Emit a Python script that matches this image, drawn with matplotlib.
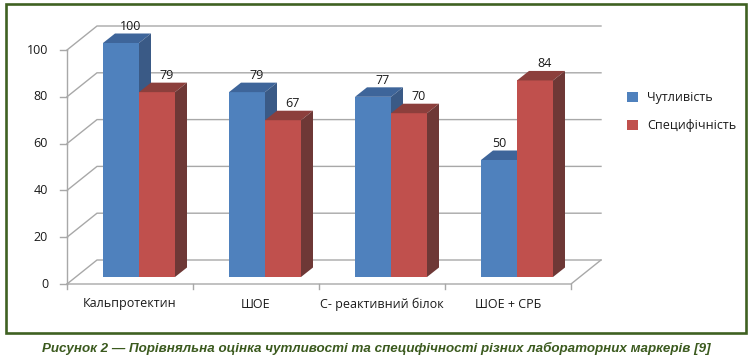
import matplotlib
matplotlib.use("Agg")
import matplotlib.pyplot as plt
from matplotlib.patches import Polygon, Rectangle, Patch

# ---- data ----
categories = ["Кальпротектин", "ШОЕ", "С- реактивний білок", "ШОЕ + СРБ"]
series_names = ["Чутливість", "Специфічність"]
sensitivity = [100, 79, 77, 50]
specificity = [79, 67, 70, 84]
y_ticks = [0, 20, 40, 60, 80, 100]
caption = "Рисунок 2 — Порівняльна оцінка чутливості та специфічності різних лабораторних маркерів [9]"

# ---- style ----
FRONT = ["#4F81BD", "#C0504D"]
TOP = ["#3E659A", "#8C3F3C"]
SIDE = ["#3A5A86", "#6E3836"]
GRID = "#A8A8A8"
FONT = ["Open Sans", "DejaVu Sans"]
FS = 9
plt.rcParams["font.family"] = FONT

W, H = 752, 361
fig = plt.figure(figsize=(W / 100, H / 100), dpi=100)
fig.patch.set_facecolor("white")

# pixel layout of the plot (front axis origin, scale)
X0, Y0 = 67, 284          # front-left-bottom corner in px (from top)
CATPX, VALPX = 126, 2.34  # px per category, px per value unit
ax = fig.add_axes([0, 0, 1, 1])
ax.set_xlim(-X0 / CATPX, (W - X0) / CATPX)
ax.set_ylim(-(H - Y0) / VALPX, Y0 / VALPX)
ax.axis("off")

def px_dx(p):
    return p / CATPX

def px_dy(p):
    return p / VALPX

WALL_DX, WALL_DY = px_dx(30), px_dy(24)
BAR_OFF_X, BAR_OFF_Y = px_dx(9), px_dy(7)
BAR_DX, BAR_DY = px_dx(12), px_dy(9.5)
BW = px_dx(36)
n = len(categories)

# ---- walls / gridlines ----
for v in y_ticks:
    ax.plot([0, WALL_DX, n + WALL_DX], [v, v + WALL_DY, v + WALL_DY],
            color=GRID, lw=1.0, zorder=1, solid_joinstyle="miter")
    ax.plot([-px_dx(7), 0], [v, v], color=GRID, lw=1.0, zorder=1)
    ax.text(-px_dx(19), v, str(v), ha="right", va="center", fontsize=FS,
            color="#1a1a1a")
ax.plot([0, 0], [0, y_ticks[-1]], color=GRID, lw=1.0, zorder=1)
ax.plot([0, n, n + WALL_DX], [0, 0, WALL_DY], color=GRID, lw=1.0, zorder=1)
for i in range(n + 1):
    ax.plot([i, i], [0, -px_dy(5)], color=GRID, lw=1.0, zorder=1)
for i, c in enumerate(categories):
    ax.text(i + 0.5, -px_dy(20), c, ha="center", va="center", fontsize=FS,
            color="#1a1a1a")

# ---- 3D bars ----
series = [sensitivity, specificity]
z = 3
for i in range(n):
    for s, vals in enumerate(series):
        v = vals[i]
        x0 = i + 0.5 + BAR_OFF_X - BW + s * BW
        y0 = BAR_OFF_Y
        ax.bar(x0, v, width=BW, bottom=y0, align="edge", color=FRONT[s],
               linewidth=0, zorder=z)
        top = [(x0, y0 + v), (x0 + BW, y0 + v),
               (x0 + BW + BAR_DX, y0 + v + BAR_DY), (x0 + BAR_DX, y0 + v + BAR_DY)]
        side = [(x0 + BW, y0), (x0 + BW + BAR_DX, y0 + BAR_DY),
                (x0 + BW + BAR_DX, y0 + v + BAR_DY), (x0 + BW, y0 + v)]
        ax.add_patch(Polygon(top, closed=True, facecolor=TOP[s], lw=0, zorder=z))
        ax.add_patch(Polygon(side, closed=True, facecolor=SIDE[s], lw=0, zorder=z))
        # label: centred over the back edge of the top; pulled left when the
        # neighbouring bar to the right is taller (would overlap)
        lx = x0 + BW / 2 + BAR_DX * 0.8
        if s + 1 < len(series) and series[s + 1][i] > v:
            lx = x0 + BW / 2
        ax.text(lx, y0 + v + BAR_DY + px_dy(7), str(v),
                ha="center", va="center", fontsize=FS, color="#1a1a1a",
                zorder=100)
        z += 1

# ---- legend ----
handles = [Patch(facecolor=FRONT[k], edgecolor="none") for k in range(2)]
leg = ax.legend(handles, series_names, loc="upper left",
                bbox_to_anchor=(627 / W, 1 - 91 / H),
                bbox_transform=fig.transFigure, frameon=False, fontsize=FS,
                handlelength=0.9, handleheight=0.9, handletextpad=0.7,
                labelspacing=1.2, borderpad=0, borderaxespad=0)
for t in leg.get_texts():
    t.set_color("#1a1a1a")

# ---- frame ----
fig.patches.append(Rectangle((6 / W, 1 - 333 / H), 740 / W, 329 / H,
                             transform=fig.transFigure, fill=False,
                             edgecolor="#3F6122", lw=1.9, zorder=20))

# ---- caption ----
fig.text(376 / W, 1 - 348 / H, caption, ha="center", va="center",
         fontsize=9.6, fontweight="bold", style="italic", color="#3B5A1E",
         family=["Liberation Sans", "DejaVu Sans"])

fig.savefig("out.png", dpi=100, facecolor="white")
